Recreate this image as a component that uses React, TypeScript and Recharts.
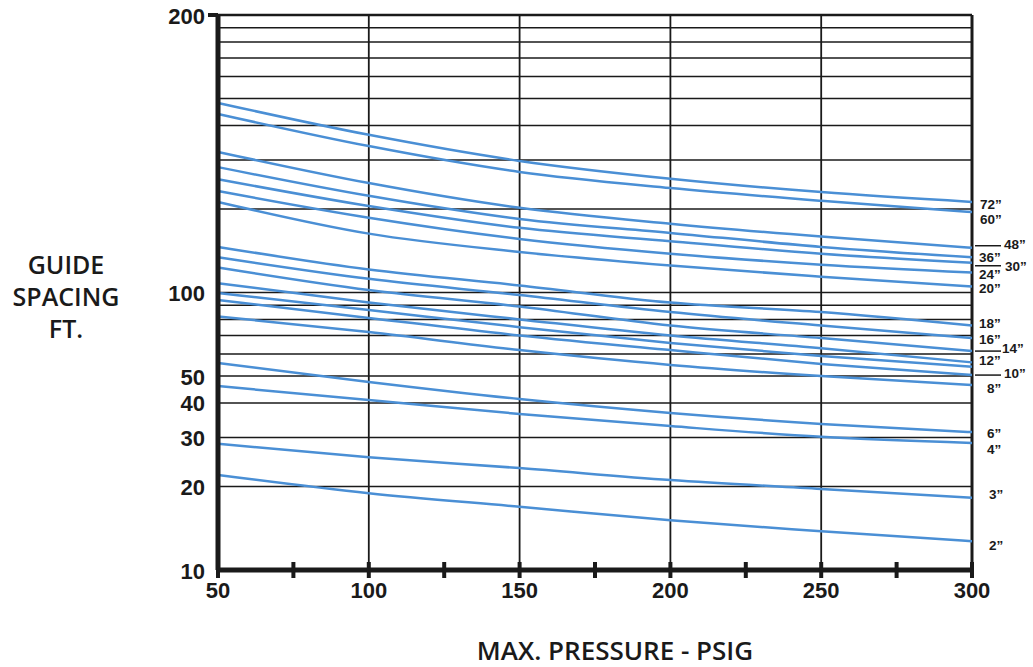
import { LineChart, Line, XAxis, YAxis, ReferenceLine } from "recharts";

// pressure (psig) at which each curve was read
const pressures = [50, 100, 150, 200, 250, 300];

// guide spacing readings per pipe size
const s72 = [482, 370, 298, 257, 230, 212];
const s60 = [440, 337, 272, 238, 214, 195];
const s48 = [321, 248, 202, 177, 159, 145];
const s36 = [283, 223, 184, 164, 146, 134];
const s30 = [256, 205, 171, 153, 138, 128];
const s24 = [232, 186, 156, 138, 126, 118];
const s20 = [212, 163, 140, 125, 114, 105];
const s18 = [146, 121, 106, 92, 85, 76];
const s16 = [134, 112, 98, 85, 76, 68.5];
const s14 = [123, 102, 89, 76, 68.5, 61.5];
const s12 = [108, 92, 80, 70, 63, 56];
const s11 = [99.6, 86.5, 75, 65.8, 59, 54];
const s10 = [94, 81, 70, 62, 55.3, 50.4];
const s8 = [82, 72, 62, 54.8, 50, 46.4];
const s6 = [55.7, 47.6, 41.3, 36.8, 33.6, 31.4];
const s4 = [46, 41, 36.5, 33, 30.2, 28.7];
const s3 = [28.5, 25.5, 23.3, 21.1, 19.6, 18.2];
const s2 = [22, 18.9, 16.9, 15.1, 13.8, 12.7];

const curves = [
  { key: "d72", name: "72”", values: s72 },
  { key: "d60", name: "60”", values: s60 },
  { key: "d48", name: "48”", values: s48 },
  { key: "d36", name: "36”", values: s36 },
  { key: "d30", name: "30”", values: s30 },
  { key: "d24", name: "24”", values: s24 },
  { key: "d20", name: "20”", values: s20 },
  { key: "d18", name: "18”", values: s18 },
  { key: "d16", name: "16”", values: s16 },
  { key: "d14", name: "14”", values: s14 },
  { key: "d12", name: "12”", values: s12 },
  { key: "d11", name: "", values: s11 },
  { key: "d10", name: "10”", values: s10 },
  { key: "d8", name: "8”", values: s8 },
  { key: "d6", name: "6”", values: s6 },
  { key: "d4", name: "4”", values: s4 },
  { key: "d3", name: "3”", values: s3 },
  { key: "d2", name: "2”", values: s2 },
];

const yTickValues = [10, 20, 30, 40, 50, 100, 1000];
const yTickLabels = ["10", "20", "30", "40", "50", "100", "200"];
const xTicks = [50, 75, 100, 125, 150, 175, 200, 225, 250, 275, 300];
const hGrid = [20, 30, 40, 50, 60, 70, 80, 90, 100, 200, 300, 400, 500, 600, 700, 800, 900];
const vGrid = [100, 150, 200, 250];

// label placement at the right end of each curve (offsets in px)
const labelPos: Record<string, { dx: number; dy: number; leader?: number }> = {
  d72: { dx: 8, dy: 3 },
  d60: { dx: 8, dy: 7 },
  d48: { dx: 32, dy: -3, leader: -2 },
  d36: { dx: 7, dy: 0 },
  d30: { dx: 33, dy: 4, leader: 3 },
  d24: { dx: 7, dy: 2 },
  d20: { dx: 7, dy: 2 },
  d18: { dx: 7, dy: -2 },
  d16: { dx: 7, dy: 1 },
  d14: { dx: 30, dy: -3, leader: 0 },
  d12: { dx: 7, dy: -2 },
  d11: { dx: 7, dy: 0 },
  d10: { dx: 32, dy: -2, leader: 0 },
  d8: { dx: 15, dy: 3 },
  d6: { dx: 15, dy: 1 },
  d4: { dx: 15, dy: 7 },
  d3: { dx: 17, dy: -3 },
  d2: { dx: 17, dy: 4 },
};

const rows = pressures.map((p, i) => {
  const r: Record<string, number> = { p };
  curves.forEach((c) => (r[c.key] = c.values[i]));
  return r;
});

const BLUE = "#4a8fd5";
const INK = "#1a1a1a";
const NUM_FONT = "'Liberation Sans', Arial, sans-serif";
const TITLE_FONT = "'Open Sans', 'Noto Sans', sans-serif";

function YTick(props: any) {
  const { x, y, payload } = props;
  const idx = yTickValues.indexOf(payload.value);
  return (
    <g>
      {payload.value === 1000 && <line x1={x - 10} x2={x} y1={y} y2={y} stroke={INK} strokeWidth={4} />}
      <text
        x={x - 13}
        y={y + 1}
        textAnchor="end"
        dominantBaseline="central"
        fontFamily={NUM_FONT}
        fontWeight="bold"
        fontSize={22}
        fill={INK}
      >
        {yTickLabels[idx]}
      </text>
    </g>
  );
}

function XTick(props: any) {
  const { x, y, payload } = props;
  return (
    <g>
      <line x1={x} x2={x} y1={y - 8} y2={y + 8} stroke={INK} strokeWidth={4} />
      {payload.value % 50 === 0 && (
        <text x={x} y={y + 28} textAnchor="middle" fontFamily={NUM_FONT} fontWeight="bold" fontSize={22} fill={INK}>
          {payload.value}
        </text>
      )}
    </g>
  );
}

function curveLabel(key: string, text: string) {
  const pos = labelPos[key];
  return (props: any) => {
    if (props.index !== pressures.length - 1 || !text) return <g />;
    const { x, y } = props;
    return (
      <g>
        {pos.leader !== undefined && (
          <line x1={x + 3} x2={x + 29} y1={y + pos.leader} y2={y + pos.leader} stroke={INK} strokeWidth={1.5} />
        )}
        <text
          x={x + pos.dx}
          y={y + pos.dy}
          dominantBaseline="central"
          fontFamily={NUM_FONT}
          fontWeight="bold"
          fontSize={13.5}
          fill={INK}
        >
          {text}
        </text>
      </g>
    );
  };
}

export default function App() {
  return (
    <div style={{ position: "absolute", left: 0, top: 0, width: 1033, height: 667, background: "#fff" }}>
      <LineChart width={1033} height={667} data={rows} margin={{ top: 15, right: 61, bottom: 57, left: 138 }}>
        <XAxis
          dataKey="p"
          type="number"
          domain={[50, 300]}
          ticks={xTicks}
          interval={0}
          height={40}
          tickSize={0}
          tickMargin={0}
          tickLine={false}
          axisLine={{ stroke: INK, strokeWidth: 5 }}
          tick={<XTick />}
        />
        <YAxis
          type="number"
          scale="log"
          domain={[10, 1000]}
          allowDataOverflow
          ticks={yTickValues}
          interval={0}
          width={80}
          tickSize={0}
          tickMargin={0}
          tickLine={false}
          axisLine={{ stroke: INK, strokeWidth: 5 }}
          tick={<YTick />}
        />
        {hGrid.map((v) => (
          <ReferenceLine key={"h" + v} y={v} stroke={INK} strokeWidth={1.5} />
        ))}
        <ReferenceLine y={1000} stroke={INK} strokeWidth={2.5} />
        {vGrid.map((v) => (
          <ReferenceLine key={"v" + v} x={v} stroke={INK} strokeWidth={1.8} />
        ))}
        <ReferenceLine x={300} stroke={INK} strokeWidth={3} />
        {curves.map((c) => (
          <Line
            key={c.key}
            dataKey={c.key}
            name={c.name}
            type="monotone"
            stroke={BLUE}
            strokeWidth={2.5}
            dot={false}
            isAnimationActive={false}
            label={curveLabel(c.key, c.name)}
          />
        ))}
      </LineChart>

      <div
        style={{
          position: "absolute",
          left: 0,
          top: 248,
          width: 132,
          textAlign: "center",
          fontFamily: TITLE_FONT,
          fontWeight: 600,
          fontSize: 25,
          lineHeight: "32px",
          color: INK,
        }}
      >
        GUIDE
        <br />
        SPACING
        <br />
        FT.
      </div>
      <div
        style={{
          position: "absolute",
          left: 415,
          top: 637,
          width: 400,
          textAlign: "center",
          fontFamily: TITLE_FONT,
          fontWeight: 600,
          fontSize: 26,
          lineHeight: "26px",
          color: INK,
        }}
      >
        MAX. PRESSURE - PSIG
      </div>
    </div>
  );
}
